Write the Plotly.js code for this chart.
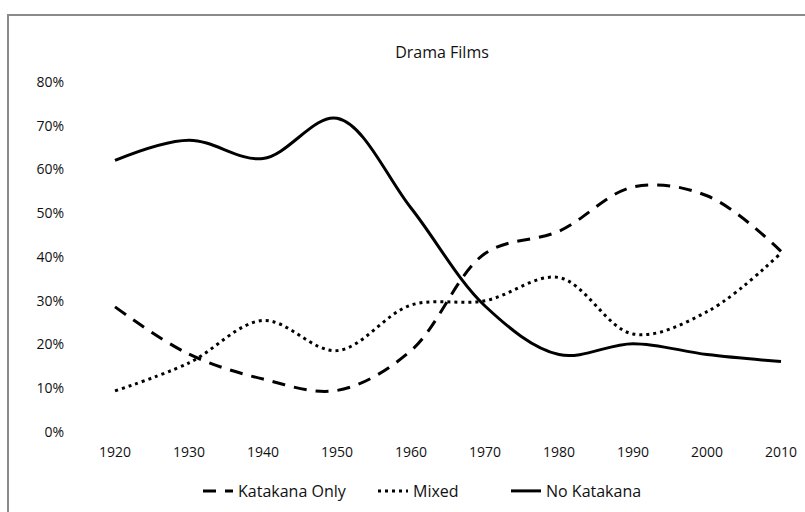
<!DOCTYPE html>
<html>
<head>
<meta charset="utf-8">
<script src="https://cdn.plot.ly/plotly-3.0.1.min.js"></script>
<style>
  html, body { margin: 0; padding: 0; background: #fff; overflow: hidden; }
  #wrap { position: relative; width: 805px; height: 512px; }
  #chart { position: absolute; left: 0; top: 0; width: 805px; height: 512px; }
  #frame { position: absolute; left: 7px; top: 14px; width: 820px; height: 520px;
           border-left: 2px solid #8a8a8a; border-top: 2px solid #8a8a8a; pointer-events: none; }
</style>
</head>
<body>
<div id="wrap">
  <div id="chart"></div>
  <div id="frame"></div>
</div>
<script>
const years = [1920, 1930, 1940, 1950, 1960, 1970, 1980, 1990, 2000, 2010];
const katakanaOnly = [0.286, 0.178, 0.121, 0.095, 0.186, 0.408, 0.459, 0.560, 0.540, 0.413];
const mixed        = [0.094, 0.158, 0.255, 0.186, 0.290, 0.300, 0.353, 0.224, 0.275, 0.409];
const noKatakana   = [0.621, 0.667, 0.625, 0.717, 0.512, 0.288, 0.177, 0.202, 0.177, 0.161];
const yTicks = [0, 0.1, 0.2, 0.3, 0.4, 0.5, 0.6, 0.7, 0.8];
const yTickText = ['0%', '10%', '20%', '30%', '40%', '50%', '60%', '70%', '80%'];

const FONT = 'Open Sans, Noto Sans, sans-serif';
const TXT = '#111';
const traces = [
  { x: years, y: katakanaOnly, name: 'Katakana Only', mode: 'lines', legend: 'legend',
    line: { color: '#000', width: 3, dash: '13px,9px', shape: 'spline', smoothing: 1 } },
  { x: years, y: mixed, name: 'Mixed', mode: 'lines', legend: 'legend2',
    line: { color: '#000', width: 3, dash: '3px,4px', shape: 'spline', smoothing: 1 } },
  { x: years, y: noKatakana, name: 'No Katakana', mode: 'lines', legend: 'legend3',
    line: { color: '#000', width: 3, shape: 'spline', smoothing: 1 } }
];

function leg(left) {
  return { orientation: 'h', x: left / 805, xref: 'container', xanchor: 'left',
           y: 1 - 491 / 512, yref: 'container', yanchor: 'middle',
           font: { family: FONT, size: 16, color: TXT }, bgcolor: 'rgba(0,0,0,0)' };
}

const layout = {
  width: 805, height: 512,
  margin: { l: 80, r: 10, t: 82, b: 80 },
  paper_bgcolor: '#fff', plot_bgcolor: '#fff',
  font: { family: FONT, color: TXT, size: 14 },
  title: { text: 'Drama Films', font: { family: FONT, size: 16, color: TXT },
           x: 442 / 805, xref: 'container', xanchor: 'center', y: 1 - 52 / 512, yref: 'container', yanchor: 'middle' },
  xaxis: {
    range: [1915.27, 2011.89], tickmode: 'array', tickvals: years, ticktext: years.map(String),
    showgrid: false, zeroline: false, showline: false, ticks: '',
    tickfont: { family: FONT, size: 14, color: TXT }, ticklabelstandoff: 10, fixedrange: true
  },
  yaxis: {
    range: [0, 0.8], tickmode: 'array', tickvals: yTicks, ticktext: yTickText,
    showgrid: false, zeroline: false, showline: false, ticks: '',
    tickfont: { family: FONT, size: 14, color: TXT }, ticklabelstandoff: 15, fixedrange: true
  },
  showlegend: true,
  legend: leg(198),
  legend2: leg(373),
  legend3: leg(506)
};

Plotly.newPlot('chart', traces, layout, { displayModeBar: false, staticPlot: true });
</script>
</body>
</html>
